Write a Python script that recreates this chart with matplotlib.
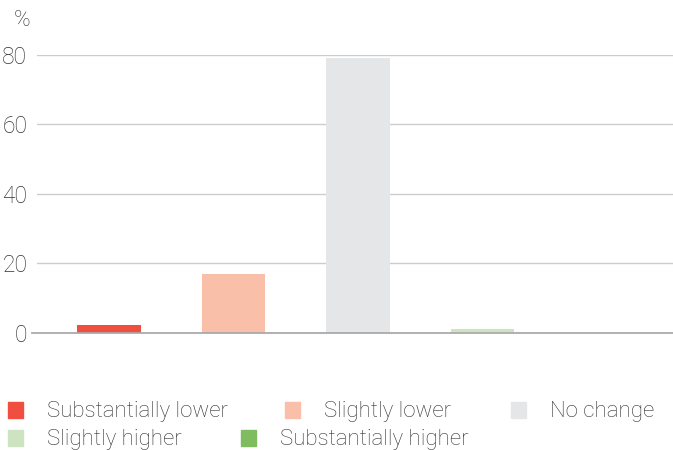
import matplotlib.pyplot as plt
from matplotlib.patches import Rectangle

plt.rcParams['font.family'] = ['Roboto', 'DejaVu Sans']

categories = ['Substantially lower', 'Slightly lower', 'No change',
              'Slightly higher', 'Substantially higher']
values = [2.3, 17.0, 79.2, 1.2, 0.0]
colors = ['#f04e3e', '#f9bfa8', '#e5e6e8', '#cce5c0', '#7fbc5f']
yticks = [0, 20, 40, 60, 80]

fig = plt.figure(figsize=(6.73, 4.5), dpi=100)
ax = fig.add_axes([0.055, 0.26, 0.945, 0.618])

x = list(range(len(categories)))
ax.bar(x, values, width=0.51, color=colors, zorder=2)

ax.set_xlim(-0.58, 4.53)
ax.set_ylim(0, 80)
ax.set_yticks(yticks)
ax.set_yticklabels([str(t) for t in yticks], fontsize=16.5, color='#333333', fontweight='light')
ax.tick_params(axis='y', length=0, pad=7)
ax.set_xticks([])
for t in yticks[1:]:
    ax.axhline(t, color='#cccccc', lw=1, zorder=1)
ax.axhline(0, color='#aaaaaa', lw=1.3, zorder=3, xmin=-0.008, clip_on=False)
for s in ax.spines.values():
    s.set_visible(False)

fig.text(0.033, 0.955, '%', fontsize=16, color='#333333', ha='center', va='center', fontweight='light')

# legend laid out as flowing rows
leg_pos = [(15, 410), (292, 410), (518, 410), (15, 438), (248, 438)]
for (px, py), lab, c in zip(leg_pos, categories, colors):
    fig.patches.append(Rectangle(((px - 7) / 673, 1 - (py + 8) / 450), 15 / 673, 16 / 450,
                                 transform=fig.transFigure, color=c))
    fig.text((px + 32) / 673, 1 - (py + 2) / 450, lab, fontsize=16, color='#333333',
             va='center', ha='left', fontweight='light')

fig.savefig('out.png', dpi=100)
